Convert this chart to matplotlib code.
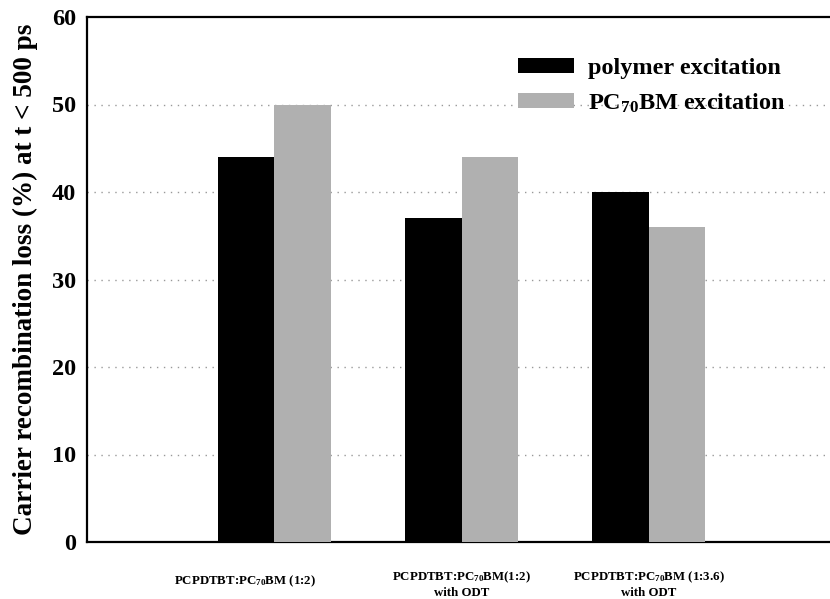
import matplotlib
matplotlib.use("Agg")
import matplotlib.pyplot as plt
import matplotlib.transforms as mtransforms
import numpy as np

categories = ["PCPDTBT:PC$_{70}$BM (1:2)",
              "PCPDTBT:PC$_{70}$BM(1:2)\nwith ODT",
              "PCPDTBT:PC$_{70}$BM (1:3.6)\nwith ODT"]
polymer_exc = [44, 37, 40]
pcbm_exc = [50, 44, 36]
series_labels = ["polymer excitation", "PC$_{70}$BM excitation"]
yticks = [0, 10, 20, 30, 40, 50, 60]

plt.rcParams['font.family'] = ['Liberation Serif', 'DejaVu Serif']
plt.rcParams['font.weight'] = 'bold'
plt.rcParams['mathtext.fontset'] = 'custom'
plt.rcParams['mathtext.rm'] = 'Liberation Serif:bold'
plt.rcParams['mathtext.it'] = 'Liberation Serif:bold'
plt.rcParams['mathtext.bf'] = 'Liberation Serif:bold'
plt.rcParams['mathtext.default'] = 'rm'

W, H = 830, 599
fig = plt.figure(figsize=(W / 100, H / 100), dpi=100)
ax = fig.add_axes([87 / W, (H - 542) / H, (836 - 87) / W, (542 - 17) / H])

x = np.arange(1, len(categories) + 1)
bw = 0.302
ax.bar(x - bw / 2, polymer_exc, bw, color='black', label=series_labels[0], zorder=3)
ax.bar(x + bw / 2, pcbm_exc, bw, color='#b0b0b0', label=series_labels[1], zorder=3)

ax.set_xlim(0, 4)
ax.set_ylim(0, 60)
ax.set_yticks(yticks)
ax.set_yticklabels([str(t) for t in yticks], fontsize=17.5, fontweight='bold')
ax.set_xticks(x)
ax.set_xticklabels(categories, fontsize=9.3, fontweight='bold', linespacing=1.15)
ax.tick_params(axis='y', length=0, pad=8)
ax.tick_params(axis='x', length=0, pad=20)
lbls = ax.get_xticklabels()
lbls[0].set_transform(lbls[0].get_transform() +
                      mtransforms.ScaledTranslation(-29 / 100, -4 / 100, fig.dpi_scale_trans))

for y in yticks[1:-1]:
    ax.axhline(y, color='#999999', linestyle=(0, (1, 4)), linewidth=1.0, zorder=1)

ax.set_ylabel("Carrier recombination loss (%) at t < 500 ps", fontsize=19.5,
              fontweight='bold', labelpad=10)

for s in ['left', 'bottom', 'top']:
    ax.spines[s].set_linewidth(1.6)
ax.spines['right'].set_visible(False)

leg = ax.legend(loc='upper left', bbox_to_anchor=(0.562, 0.94), frameon=False,
                prop={'family': 'Liberation Serif', 'weight': 'bold', 'size': 17.5},
                handlelength=2.3, handleheight=0.55, handletextpad=0.6,
                labelspacing=0.5, borderaxespad=0)

fig.savefig("out.png", dpi=100)
